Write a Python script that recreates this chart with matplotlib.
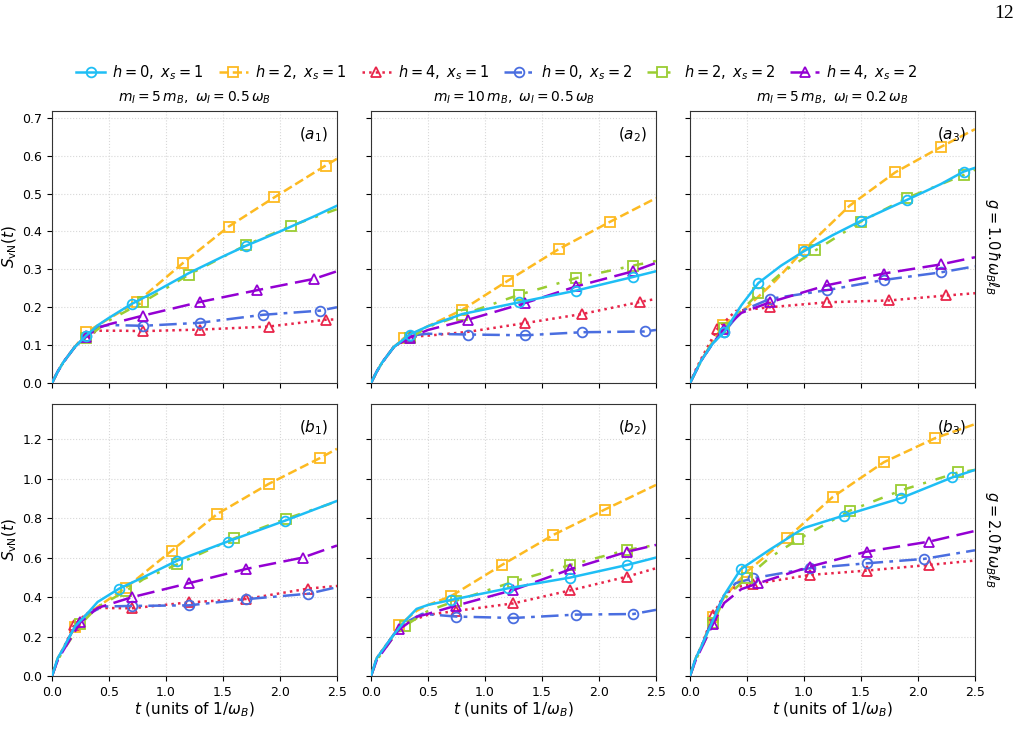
import matplotlib.pyplot as plt

# series order: (h=0,xs=1), (h=2,xs=1), (h=4,xs=1), (h=0,xs=2), (h=2,xs=2), (h=4,xs=2)
labels = [r"$h=0,\ x_s=1$", r"$h=2,\ x_s=1$", r"$h=4,\ x_s=1$",
          r"$h=0,\ x_s=2$", r"$h=2,\ x_s=2$", r"$h=4,\ x_s=2$"]
colors = ["#1EBEF5", "#FDBA21", "#E8254A", "#4A6EE0", "#9ACD32", "#9400D3"]
markers = ["o", "s", "^", "o", "s", "^"]
styles = ["-", "--", ":", (0, (7, 2.5, 1.5, 2.5)), (0, (4, 4, 1.2, 4)), (0, (7, 3))]

col_titles = [r"$m_I=5\,m_B,\ \omega_I=0.5\,\omega_B$",
              r"$m_I=10\,m_B,\ \omega_I=0.5\,\omega_B$",
              r"$m_I=5\,m_B,\ \omega_I=0.2\,\omega_B$"]
row_labels = [r"$g=1.0\,\hbar\omega_B\ell_B$", r"$g=2.0\,\hbar\omega_B\ell_B$"]
panel_tags = [[r"$(a_1)$", r"$(a_2)$", r"$(a_3)$"], [r"$(b_1)$", r"$(b_2)$", r"$(b_3)$"]]

# each series: (t, S_vN, marker indices)
a1 = [
    ([0, 0.05, 0.1, 0.2, 0.3, 0.4, 0.5, 0.7, 0.9, 1.2, 1.5, 1.7, 2.0, 2.3, 2.5],
     [0, 0.03, 0.055, 0.095, 0.125, 0.152, 0.172, 0.209, 0.24, 0.29, 0.334, 0.362, 0.40, 0.44, 0.468], [4, 7, 11]),
    ([0, 0.05, 0.1, 0.2, 0.3, 0.5, 0.75, 1.15, 1.55, 1.95, 2.4, 2.5],
     [0, 0.03, 0.055, 0.095, 0.134, 0.17, 0.215, 0.317, 0.413, 0.49, 0.574, 0.592], [4, 6, 7, 8, 9, 10]),
    ([0, 0.05, 0.1, 0.2, 0.3, 0.4, 0.6, 0.8, 1.3, 1.9, 2.4, 2.5],
     [0, 0.03, 0.055, 0.095, 0.123, 0.138, 0.138, 0.137, 0.141, 0.149, 0.167, 0.168], [4, 7, 8, 9, 10]),
    ([0, 0.05, 0.1, 0.2, 0.3, 0.4, 0.5, 0.8, 1.3, 1.85, 2.35, 2.5],
     [0, 0.03, 0.055, 0.095, 0.125, 0.148, 0.153, 0.151, 0.159, 0.18, 0.191, 0.2], [4, 7, 8, 9, 10]),
    ([0, 0.05, 0.1, 0.2, 0.3, 0.5, 0.8, 1.2, 1.7, 2.1, 2.5],
     [0, 0.03, 0.055, 0.095, 0.118, 0.165, 0.214, 0.286, 0.364, 0.415, 0.459], [4, 6, 7, 8, 9]),
    ([0, 0.05, 0.1, 0.2, 0.3, 0.4, 0.5, 0.8, 1.3, 1.8, 2.3, 2.5],
     [0, 0.03, 0.055, 0.095, 0.122, 0.145, 0.155, 0.178, 0.214, 0.245, 0.275, 0.295], [4, 7, 8, 9, 10]),
]
a2 = [
    ([0, 0.05, 0.1, 0.2, 0.34, 0.5, 0.8, 1.3, 1.8, 2.3, 2.5],
     [0, 0.03, 0.055, 0.095, 0.128, 0.15, 0.182, 0.213, 0.244, 0.28, 0.295], [4, 7, 8, 9]),
    ([0, 0.05, 0.1, 0.2, 0.29, 0.5, 0.8, 1.2, 1.65, 2.1, 2.5],
     [0, 0.03, 0.055, 0.095, 0.119, 0.15, 0.193, 0.270, 0.354, 0.426, 0.488], [4, 6, 7, 8, 9]),
    ([0, 0.05, 0.1, 0.2, 0.34, 0.5, 0.85, 1.35, 1.85, 2.36, 2.5],
     [0, 0.03, 0.055, 0.095, 0.122, 0.125, 0.135, 0.158, 0.182, 0.214, 0.222], [4, 7, 8, 9]),
    ([0, 0.05, 0.1, 0.2, 0.34, 0.5, 0.85, 1.35, 1.85, 2.4, 2.5],
     [0, 0.03, 0.055, 0.095, 0.125, 0.13, 0.128, 0.126, 0.134, 0.136, 0.14], [4, 6, 7, 8, 9]),
    ([0, 0.05, 0.1, 0.2, 0.34, 0.5, 0.8, 1.3, 1.8, 2.3, 2.5],
     [0, 0.03, 0.055, 0.095, 0.118, 0.148, 0.18, 0.233, 0.277, 0.31, 0.322], [4, 6, 7, 8, 9]),
    ([0, 0.05, 0.1, 0.2, 0.34, 0.5, 0.85, 1.35, 1.8, 2.3, 2.5],
     [0, 0.03, 0.055, 0.095, 0.12, 0.14, 0.167, 0.211, 0.255, 0.295, 0.317], [4, 6, 7, 8, 9]),
]
a3 = [
    ([0, 0.05, 0.1, 0.2, 0.3, 0.45, 0.6, 0.8, 1.0, 1.25, 1.5, 1.9, 2.2, 2.4, 2.5],
     [0, 0.03, 0.06, 0.105, 0.134, 0.205, 0.264, 0.31, 0.348, 0.39, 0.428, 0.483, 0.525, 0.558, 0.568], [4, 6, 8, 10, 11, 13]),
    ([0, 0.05, 0.1, 0.2, 0.29, 0.5, 0.75, 1.0, 1.4, 1.8, 2.2, 2.5],
     [0, 0.03, 0.06, 0.11, 0.152, 0.2, 0.27, 0.352, 0.468, 0.556, 0.623, 0.67], [4, 7, 8, 9, 10]),
    ([0, 0.05, 0.1, 0.24, 0.4, 0.7, 1.2, 1.75, 2.25, 2.5],
     [0, 0.035, 0.065, 0.143, 0.19, 0.2, 0.213, 0.218, 0.231, 0.237], [3, 5, 6, 7, 8]),
    ([0, 0.05, 0.1, 0.2, 0.3, 0.45, 0.7, 1.2, 1.7, 2.2, 2.5],
     [0, 0.03, 0.06, 0.105, 0.134, 0.19, 0.222, 0.245, 0.272, 0.292, 0.308], [4, 6, 7, 8, 9]),
    ([0, 0.05, 0.1, 0.2, 0.3, 0.6, 0.8, 1.1, 1.5, 1.9, 2.4, 2.5],
     [0, 0.03, 0.06, 0.11, 0.144, 0.237, 0.29, 0.35, 0.426, 0.488, 0.549, 0.563], [4, 5, 7, 8, 9, 10]),
    ([0, 0.05, 0.1, 0.2, 0.3, 0.45, 0.7, 1.2, 1.7, 2.2, 2.5],
     [0, 0.03, 0.06, 0.105, 0.143, 0.185, 0.213, 0.258, 0.289, 0.313, 0.332], [4, 6, 7, 8, 9]),
]
b1 = [
    ([0, 0.05, 0.1, 0.2, 0.3, 0.4, 0.59, 0.8, 1.1, 1.54, 2.04, 2.5],
     [0, 0.09, 0.14, 0.25, 0.31, 0.375, 0.443, 0.5, 0.585, 0.681, 0.786, 0.887], [6, 8, 9, 10]),
    ([0, 0.05, 0.1, 0.2, 0.3, 0.45, 0.65, 1.05, 1.45, 1.9, 2.35, 2.5],
     [0, 0.09, 0.14, 0.25, 0.31, 0.37, 0.448, 0.635, 0.821, 0.973, 1.104, 1.151], [3, 6, 7, 8, 9, 10]),
    ([0, 0.05, 0.1, 0.195, 0.3, 0.4, 0.7, 1.2, 1.7, 2.25, 2.5],
     [0, 0.085, 0.14, 0.259, 0.315, 0.345, 0.343, 0.373, 0.39, 0.443, 0.456], [3, 6, 7, 8, 9]),
    ([0, 0.05, 0.1, 0.2, 0.3, 0.45, 0.7, 1.2, 1.7, 2.25, 2.5],
     [0, 0.085, 0.14, 0.25, 0.31, 0.352, 0.355, 0.358, 0.389, 0.417, 0.45], [6, 7, 8, 9]),
    ([0, 0.05, 0.1, 0.25, 0.4, 0.65, 0.8, 1.1, 1.6, 2.05, 2.5],
     [0, 0.08, 0.13, 0.262, 0.35, 0.431, 0.49, 0.566, 0.698, 0.796, 0.884], [3, 5, 7, 8, 9]),
    ([0, 0.05, 0.1, 0.25, 0.4, 0.7, 1.2, 1.7, 2.2, 2.5],
     [0, 0.08, 0.13, 0.272, 0.345, 0.399, 0.47, 0.542, 0.60, 0.661], [3, 5, 6, 7, 8]),
]
b2 = [
    ([0, 0.05, 0.1, 0.2, 0.3, 0.4, 0.5, 0.7, 1.2, 1.75, 2.25, 2.5],
     [0, 0.09, 0.13, 0.21, 0.28, 0.34, 0.36, 0.385, 0.444, 0.499, 0.563, 0.60], [7, 8, 9, 10]),
    ([0, 0.05, 0.1, 0.2, 0.25, 0.4, 0.5, 0.7, 1.15, 1.6, 2.05, 2.5],
     [0, 0.09, 0.13, 0.21, 0.259, 0.33, 0.36, 0.404, 0.563, 0.715, 0.843, 0.968], [4, 7, 8, 9, 10]),
    ([0, 0.05, 0.1, 0.2, 0.3, 0.5, 0.75, 1.25, 1.75, 2.25, 2.5],
     [0, 0.09, 0.13, 0.21, 0.27, 0.31, 0.33, 0.368, 0.434, 0.504, 0.546], [6, 7, 8, 9]),
    ([0, 0.05, 0.1, 0.2, 0.3, 0.45, 0.75, 1.25, 1.8, 2.3, 2.5],
     [0, 0.09, 0.13, 0.21, 0.27, 0.315, 0.301, 0.294, 0.311, 0.314, 0.335], [6, 7, 8, 9]),
    ([0, 0.05, 0.1, 0.2, 0.3, 0.5, 0.75, 1.25, 1.75, 2.25, 2.5],
     [0, 0.08, 0.12, 0.2, 0.255, 0.33, 0.382, 0.478, 0.563, 0.639, 0.664], [4, 6, 7, 8, 9]),
    ([0, 0.05, 0.1, 0.2, 0.25, 0.4, 0.5, 0.75, 1.25, 1.75, 2.25, 2.5],
     [0, 0.08, 0.12, 0.2, 0.237, 0.3, 0.315, 0.357, 0.436, 0.541, 0.63, 0.664], [4, 7, 8, 9, 10]),
]
b3 = [
    ([0, 0.05, 0.1, 0.2, 0.3, 0.445, 0.7, 1.0, 1.35, 1.85, 2.3, 2.5],
     [0, 0.09, 0.15, 0.28, 0.41, 0.541, 0.64, 0.75, 0.813, 0.901, 1.006, 1.044], [5, 8, 9, 10]),
    ([0, 0.05, 0.1, 0.2, 0.3, 0.5, 0.85, 1.25, 1.7, 2.15, 2.5],
     [0, 0.09, 0.15, 0.3, 0.4, 0.529, 0.698, 0.906, 1.083, 1.205, 1.276], [3, 5, 6, 7, 8, 9]),
    ([0, 0.05, 0.1, 0.2, 0.3, 0.4, 0.55, 1.05, 1.55, 2.1, 2.5],
     [0, 0.09, 0.15, 0.309, 0.41, 0.45, 0.465, 0.512, 0.534, 0.563, 0.585], [3, 6, 7, 8, 9]),
    ([0, 0.05, 0.1, 0.2, 0.3, 0.4, 0.55, 1.05, 1.55, 2.05, 2.5],
     [0, 0.09, 0.15, 0.29, 0.41, 0.47, 0.495, 0.546, 0.571, 0.593, 0.637], [6, 7, 8, 9]),
    ([0, 0.05, 0.1, 0.2, 0.3, 0.5, 0.7, 0.95, 1.4, 1.85, 2.35, 2.5],
     [0, 0.08, 0.14, 0.267, 0.39, 0.499, 0.6, 0.693, 0.837, 0.94, 1.031, 1.044], [3, 5, 7, 8, 9, 10]),
    ([0, 0.05, 0.1, 0.2, 0.3, 0.45, 0.6, 1.05, 1.55, 2.1, 2.5],
     [0, 0.08, 0.14, 0.262, 0.37, 0.44, 0.47, 0.554, 0.63, 0.681, 0.735], [3, 6, 7, 8, 9]),
]
panels = [[a1, a2, a3], [b1, b2, b3]]

row_ylim = [0.718, 1.378]
row_yticks = [[0, 0.1, 0.2, 0.3, 0.4, 0.5, 0.6, 0.7], [0, 0.2, 0.4, 0.6, 0.8, 1.0, 1.2]]
xticks = [0, 0.5, 1.0, 1.5, 2.0, 2.5]

fig = plt.figure(figsize=(10.2, 7.52), dpi=100)
lefts = [52 / 1020, 371 / 1020, 690 / 1020]
bottoms = [1 - 383 / 752, 1 - 676 / 752]
w, h = 285 / 1020, 272 / 752

for r in range(2):
    for c in range(3):
        ax = fig.add_axes([lefts[c], bottoms[r], w, h])
        for k, (t, s, mk) in enumerate(panels[r][c]):
            ax.plot(t, s, color=colors[k], ls=styles[k], lw=1.8, marker=markers[k],
                    markevery=mk, ms=7, mfc="none", mec=colors[k], mew=1.3,
                    label=labels[k], zorder=3 + (k == 0))
        ax.set_xlim(0, 2.5)
        ax.set_ylim(0, row_ylim[r])
        ax.set_xticks(xticks)
        ax.set_yticks(row_yticks[r])
        ax.grid(True, ls=":", color="#d8d8d8", lw=0.8)
        ax.tick_params(labelsize=9, direction="out", length=3.5)
        for sp in ax.spines.values():
            sp.set_color("#333333")
        ax.text(0.97, 0.945, panel_tags[r][c], transform=ax.transAxes,
                ha="right", va="top", fontsize=11)
        if r == 0:
            ax.set_xticklabels([])
            ax.set_title(col_titles[c], fontsize=10, pad=7)
        else:
            ax.set_xticklabels(["0.0", "0.5", "1.0", "1.5", "2.0", "2.5"])
            ax.set_xlabel(r"$t$ (units of $1/\omega_B$)", fontsize=11, labelpad=1)
        if c == 0:
            ax.set_yticklabels([f"{v:.1f}" for v in row_yticks[r]])
            ax.set_ylabel(r"$S_{\rm vN}(t)$", fontsize=11, labelpad=2)
        else:
            ax.set_yticklabels([])
        if c == 2:
            ax.text(1.06, 0.5, row_labels[r], transform=ax.transAxes, rotation=-90,
                    ha="center", va="center", fontsize=10.5)
        if r == 0 and c == 0:
            handles, labs = ax.get_legend_handles_labels()

fig.legend(handles, labs, loc="center", bbox_to_anchor=(0.487, 0.904), ncol=6,
           frameon=False, fontsize=10.5, handlelength=2.0, columnspacing=1.05,
           handletextpad=0.5)
fig.text(0.994, 0.993, "12", ha="right", va="top", fontsize=14, family="Liberation Serif")

fig.savefig("out.png", dpi=100)
